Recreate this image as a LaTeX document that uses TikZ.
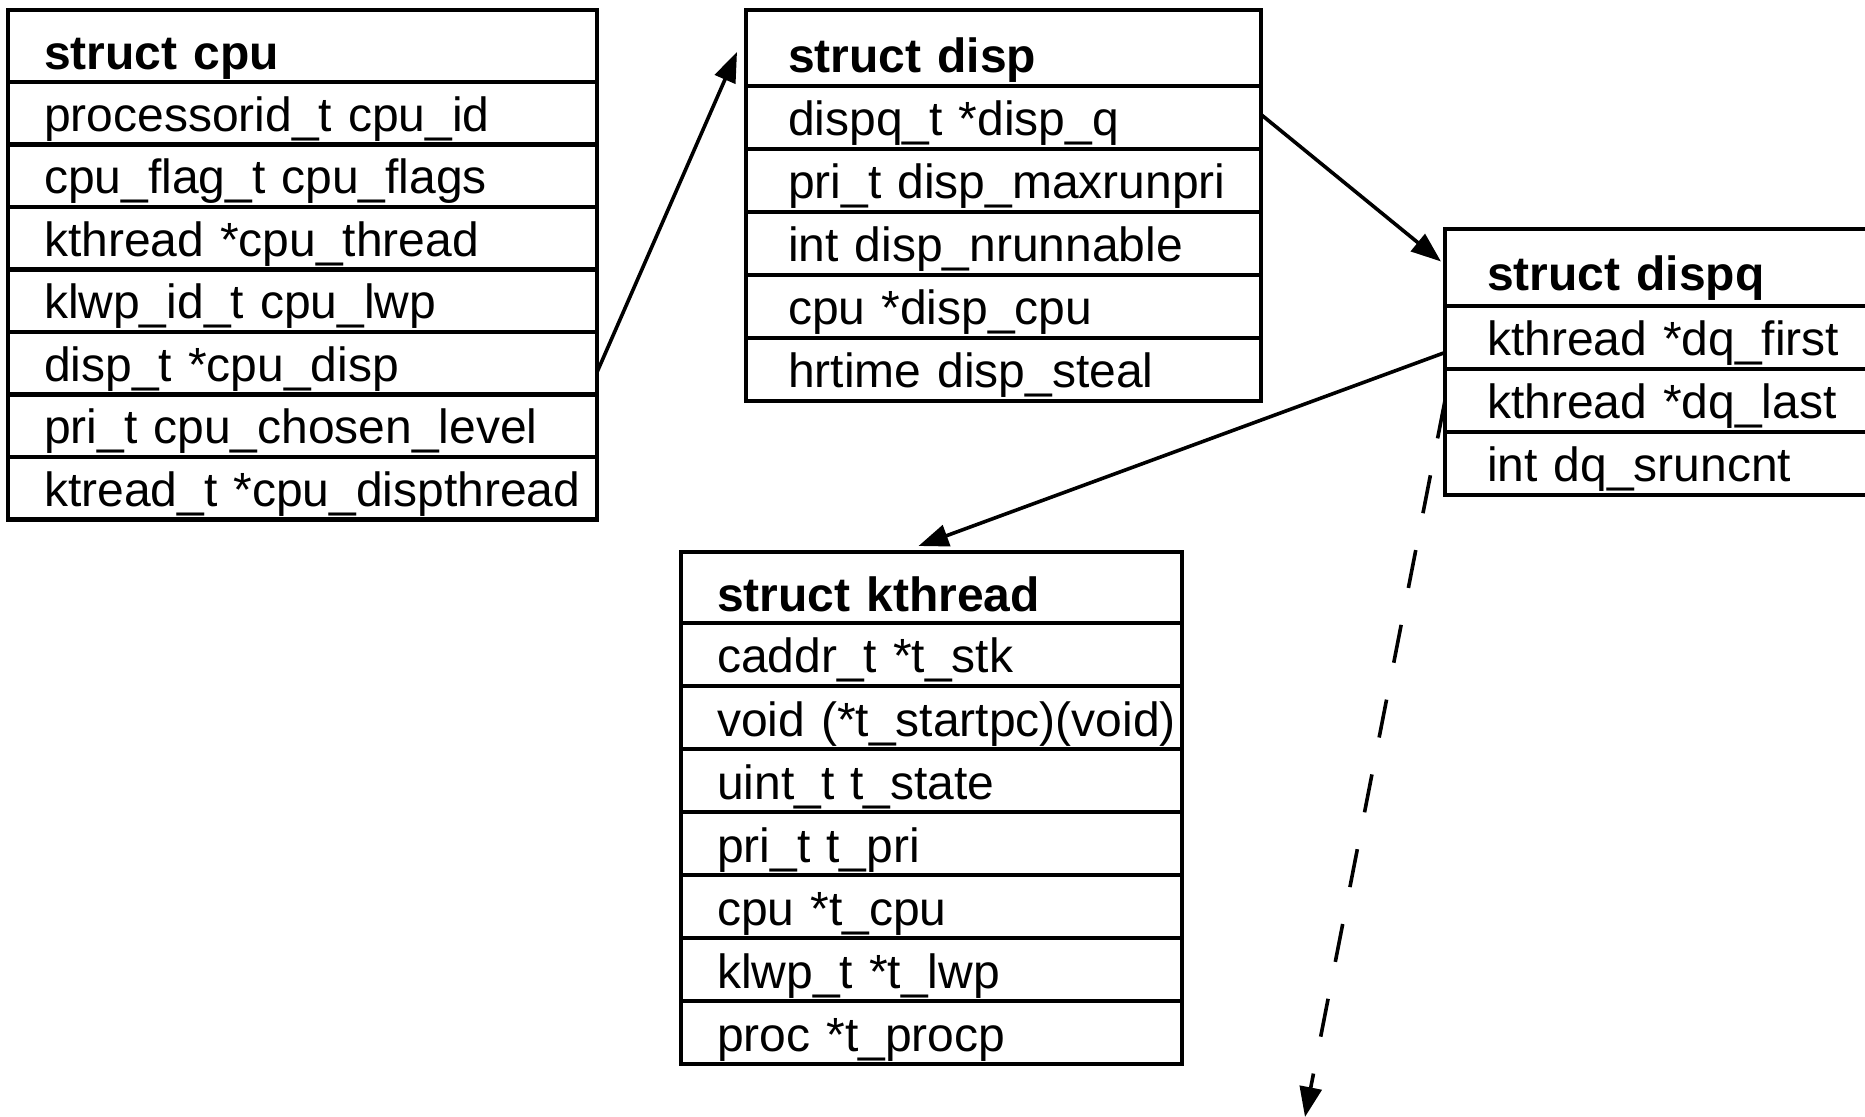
\documentclass[tikz,border=0pt]{standalone}
\usepackage{fontspec}
\setmainfont{Liberation Sans}
\usetikzlibrary{positioning,calc,arrows.meta}

\newcommand\cellfont{\fontsize{24}{28}\selectfont}
\newcommand\hdrfont{\fontsize{24}{28}\selectfont\bfseries}

\begin{document}
\begin{tikzpicture}[x=0.5pt, y=-0.5pt,
  every node/.style={outer sep=0pt},
  % one table cell: width, text height, text depth, left padding, font
  tbl/.style n args={5}{draw, line width=2.4pt, anchor=north west, inner sep=0pt,
    align=left, text width=#1, text height=#2, text depth=#3,
    execute at begin node={\hspace*{#4}}, font=#5},
  cpuH/.style={tbl={294.5pt}{30pt}{6pt}{18pt}{\hdrfont}},
  cpuR/.style={tbl={294.5pt}{24.75pt}{6.5pt}{18pt}{\cellfont}},
  dispH/.style={tbl={257.5pt}{31.25pt}{6.75pt}{21pt}{\hdrfont}},
  dispR/.style={tbl={257.5pt}{25pt}{6.5pt}{21pt}{\cellfont}},
  dqH/.style={tbl={230pt}{31pt}{7.5pt}{21pt}{\hdrfont}},
  dqR/.style={tbl={230pt}{25pt}{6.5pt}{21pt}{\cellfont}},
  ktH/.style={tbl={250.5pt}{30pt}{5.5pt}{18pt}{\hdrfont}},
  ktR/.style={tbl={250.5pt}{25pt}{6.5pt}{18pt}{\cellfont}},
  link/.style={line width=1.8pt, -{Triangle[length=15pt,width=11pt]}},
]
\useasboundingbox (0,0) rectangle (1865,1117);
\fill[white] (0,0) rectangle (1865,1117);
\clip (0,0) rectangle (1865,1117);

% struct cpu
\node[cpuH] (cpu0) at (8,10) {struct cpu};
\node[cpuR, below=0pt of cpu0] (cpu1) {processorid\_t cpu\_id};
\node[cpuR, below=0pt of cpu1] (cpu2) {cpu\_flag\_t cpu\_flags};
\node[cpuR, below=0pt of cpu2] (cpu3) {kthread *cpu\_thread};
\node[cpuR, below=0pt of cpu3] (cpu4) {klwp\_id\_t cpu\_lwp};
\node[cpuR, below=0pt of cpu4] (cpu5) {disp\_t *cpu\_disp};
\node[cpuR, below=0pt of cpu5] (cpu6) {pri\_t cpu\_chosen\_level};
\node[cpuR, below=0pt of cpu6] (cpu7) {ktread\_t *cpu\_dispthread};

% struct disp
\node[dispH] (disp0) at (746,10) {struct disp};
\node[dispR, below=0pt of disp0] (disp1) {dispq\_t *disp\_q};
\node[dispR, below=0pt of disp1] (disp2) {pri\_t disp\_maxrunpri};
\node[dispR, below=0pt of disp2] (disp3) {int disp\_nrunnable};
\node[dispR, below=0pt of disp3] (disp4) {cpu *disp\_cpu};
\node[dispR, below=0pt of disp4] (disp5) {hrtime disp\_steal};

% struct dispq
\node[dqH] (dq0) at (1445,229) {struct dispq};
\node[dqR, below=0pt of dq0] (dq1) {kthread *dq\_first};
\node[dqR, below=0pt of dq1] (dq2) {kthread *dq\_last};
\node[dqR, below=0pt of dq2] (dq3) {int dq\_sruncnt};

% struct kthread
\node[ktH] (kt0) at (681,552) {struct kthread};
\node[ktR, below=0pt of kt0] (kt1) {caddr\_t *t\_stk};
\node[ktR, below=0pt of kt1] (kt2) {void (*t\_startpc)(void)};
\node[ktR, below=0pt of kt2] (kt3) {uint\_t t\_state};
\node[ktR, below=0pt of kt3] (kt4) {pri\_t t\_pri};
\node[ktR, below=0pt of kt4] (kt5) {cpu *t\_cpu};
\node[ktR, below=0pt of kt5] (kt6) {klwp\_t *t\_lwp};
\node[ktR, below=0pt of kt6] (kt7) {proc *t\_procp};

% pointers between the structures
\draw[link] ($(cpu5.east)+(0,9)$) -- ($(disp0.west)+(-9,4)$);
\draw[link] ($(disp1.east)+(0,-3)$) -- ($(dq0.west)+(-4,-6)$);
\draw[link] ($(dq1.west)+(0,15)$) -- ($(kt0.north)+(-13,-6)$);
\coordinate (qtail) at (1305,1117);
\draw[link, dash pattern=on 19.3pt off 18.8pt] (dq2.west) -- (qtail);
\end{tikzpicture}
\end{document}
